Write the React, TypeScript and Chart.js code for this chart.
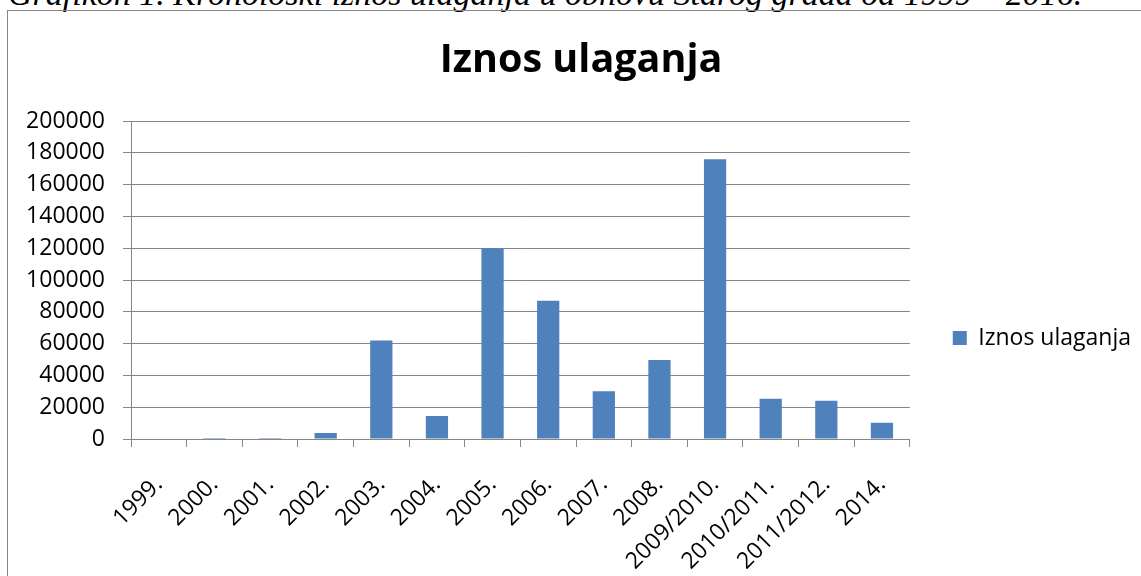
import React, { useEffect, useRef } from "react";
import { Chart, registerables } from "chart.js";

Chart.register(...registerables);

const categories = [
  "1999.", "2000.", "2001.", "2002.", "2003.", "2004.", "2005.",
  "2006.", "2007.", "2008.", "2009/2010.", "2010/2011.", "2011/2012.", "2014.",
];
const values = [0, 600, 600, 3700, 62000, 14500, 120000, 87000, 30000, 49700, 176000, 25300, 24000, 10200];
const yMin = 0;
const yMax = 200000;
const yStep = 20000;
const seriesName = "Iznos ulaganja";
const chartTitle = "Iznos ulaganja";
const caption = "Grafikon 1. Kronološki iznos ulaganja u obnovu Starog grada od 1999 – 2016.";

const BAR = "#4F81BD";
const GRID = "#868686";
const FONT = "'Open Sans', sans-serif";

export default function App() {
  const ref = useRef<HTMLCanvasElement | null>(null);

  useEffect(() => {
    if (!ref.current) return;
    const chart = new Chart(ref.current, {
      type: "bar",
      data: {
        labels: categories,
        datasets: [
          {
            label: seriesName,
            data: values,
            backgroundColor: BAR,
            borderWidth: 0,
            barPercentage: 0.4,
            categoryPercentage: 1.0,
          },
        ],
      },
      options: {
        animation: false,
        responsive: false,
        maintainAspectRatio: false,
        layout: { padding: { left: 13, right: 13, top: 0, bottom: 0 } },
        plugins: {
          tooltip: { enabled: false },
          title: {
            display: true,
            text: chartTitle,
            color: "#000",
            font: { family: FONT, size: 39.5, weight: "bold", lineHeight: 1.2 },
            padding: { top: 26.5, bottom: 36.1 },
          },
          legend: {
            display: true,
            position: "right",
            labels: {
              color: "#000",
              font: { family: FONT, size: 23 },
              boxWidth: 14,
              boxHeight: 14,
              padding: 43,
            },
          },
        },
        scales: {
          x: {
            offset: true,
            grid: {
              display: true,
              drawOnChartArea: false,
              drawTicks: true,
              tickLength: 8,
              color: GRID,
              offset: true,
            },
            border: { display: true, color: GRID },
            ticks: {
              color: "#000",
              font: { family: FONT, size: 23 },
              minRotation: 45,
              maxRotation: 45,
              autoSkip: false,
              padding: 24,
            },
            afterFit: (scale: any) => {
              scale.height = 226;
            },
          },
          y: {
            min: yMin,
            max: yMax,
            grid: { color: GRID, tickLength: 8, drawTicks: true },
            border: { display: true, color: GRID },
            ticks: {
              stepSize: yStep,
              color: "#000",
              font: { family: FONT, size: 23 },
              padding: 18,
              callback: (v: any) => String(v),
            },
            afterFit: (scale: any) => {
              scale.width = 110;
            },
          },
        },
      },
    });
    return () => chart.destroy();
  }, []);

  return (
    <div
      style={{
        position: "absolute",
        left: 0,
        top: 0,
        width: 1141,
        height: 576,
        overflow: "hidden",
        background: "#fff",
      }}
    >
      <div
        style={{
          position: "absolute",
          left: 8,
          top: -23.5,
          fontFamily: "'Liberation Serif', 'Times New Roman', serif",
          fontStyle: "italic",
          fontSize: 34,
          lineHeight: "34px",
          whiteSpace: "nowrap",
          color: "#000",
        }}
      >
        {caption}
      </div>
      <div
        style={{
          position: "absolute",
          left: 7,
          top: 10,
          width: 1200,
          height: 700,
          border: "1px solid #868686",
          boxSizing: "border-box",
        }}
      />
      <canvas
        ref={ref}
        width={1146}
        height={654}
        style={{ position: "absolute", left: 8, top: 11, width: 1146, height: 654 }}
      />
    </div>
  );
}
